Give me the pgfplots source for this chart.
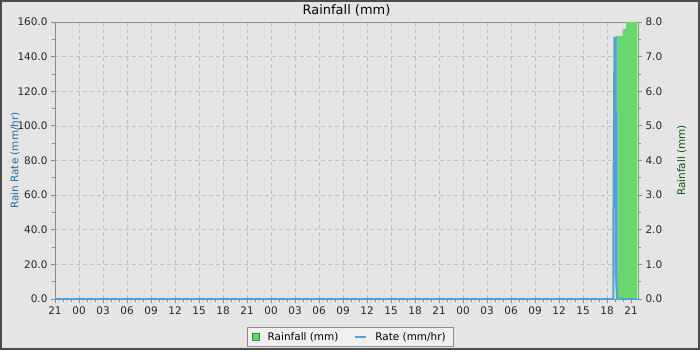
\documentclass[border=0pt]{standalone}
\usepackage{pgfplots}
\pgfplotsset{compat=1.18}
\usepackage{fontspec}
\setmainfont{DejaVu Sans}
\definecolor{bg}{HTML}{E5E5E5}
\definecolor{gridc}{HTML}{C0C0C0}
\definecolor{axc}{HTML}{8C8C8C}
\definecolor{rainfill}{HTML}{6BD66B}
\definecolor{rainedge}{HTML}{3C8C3C}
\definecolor{rateblue}{HTML}{4AA3DF}
\definecolor{ratelab}{HTML}{1F6FA8}
\definecolor{rainlab}{HTML}{0A5A0A}
\pgfplotsset{
  base/.style={
    scale only axis, width=583bp, height=277bp,
    at={(55bp,51bp)}, anchor=south west,
    xmin=0, xmax=72.875,
    /pgf/number format/assume math mode=true,
    tick label style={font=\fontsize{10.5}{12}\selectfont, color=black!85},
    label style={font=\fontsize{10.5}{12}\selectfont},
    axis line style={axc},
    tick style={axc, line width=0.8bp},
    major tick length=4bp, minor tick length=3bp,
    tick align=outside,
    xtick={0,3,...,72},
    xticklabels={21,00,03,06,09,12,15,18,21,00,03,06,09,12,15,18,21,00,03,06,09,12,15,18,21},
    minor x tick num=2,
    yticklabel style={/pgf/number format/.cd, fixed, fixed zerofill, precision=1},
  }
}
\begin{document}
\begin{tikzpicture}[x=1bp,y=1bp]
\useasboundingbox (0,0) rectangle (700,350);
\fill[bg] (0,0) rectangle (700,350);
\draw[color=black!70, line width=2bp] (1,1) rectangle (699,349);

% Rainfall (right axis), grid and green area
\begin{axis}[base,
  axis background/.style={fill=bg},
  ymin=0, ymax=8,
  ytick={0,1,...,8}, minor y tick num=1,
  xtick pos=left, ytick pos=right, yticklabel pos=right,
  grid=major,
  major grid style={gridc, dash pattern=on 4bp off 3bp, line width=0.7bp},
  ylabel={Rainfall (mm)},
  ylabel style={at={(axis description cs:1.075,0.5)}, anchor=center, rotate=0, color=rainlab},
]
\addplot[fill=rainfill, draw=none, const plot] coordinates {
  (70.1,7.6) (70.96,7.8) (71.4,8.0) (72.75,8.0)
} \closedcycle;
\end{axis}

% Rain rate (left axis)
\begin{axis}[base,
  ymin=0, ymax=160,
  ytick={0,20,...,160}, minor y tick num=1,
  axis x line=none, axis y line*=left,
  ylabel={Rain Rate (mm/hr)},
  ylabel style={at={(axis description cs:-0.0686,0.5)}, anchor=center, color=ratelab},
  title={Rainfall (mm)},
  every axis title/.style={at={(axis description cs:0.5,1.04)}, anchor=center, font=\fontsize{13}{15}\selectfont},
  legend columns=2,
  legend style={at={(axis description cs:0.506,-0.137)}, anchor=center,
    fill=bg!60!white, draw=axc, font=\fontsize{10.5}{12}\selectfont,
    inner xsep=5bp, inner ysep=3bp,
    /tikz/every odd column/.append style={column sep=6bp},
    /tikz/every even column/.append style={column sep=14bp}},
]
\addlegendimage{legend image code/.code={\draw[fill=rainfill,draw=rainedge] (0bp,-3.5bp) rectangle (7bp,3.5bp);}}
\addlegendentry{Rainfall (mm)}
\addplot[rateblue, line width=2bp,
  legend image code/.code={\draw[rateblue,line width=2bp] (0bp,0bp) -- (11bp,0bp);}] coordinates {
  (0,0) (69.78,0) (69.78,27) (69.93,151) (70.08,151) (70.12,14) (70.22,3.5) (70.32,0) (72.75,0)
};
\addlegendentry{Rate (mm/hr)}
\end{axis}
\end{tikzpicture}
\end{document}
